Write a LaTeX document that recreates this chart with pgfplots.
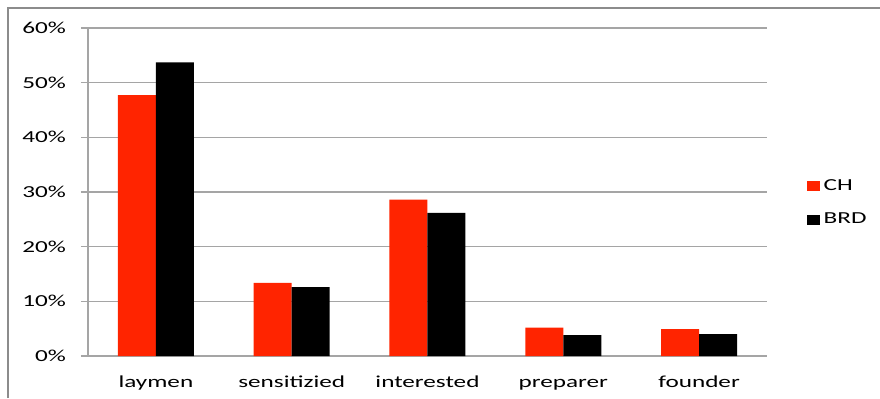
\documentclass[border=0pt]{standalone}
\usepackage{pgfplots}
\pgfplotsset{compat=1.18}
\usepackage{fontspec}
\setmainfont{Carlito}[FakeStretch=1.5]
\definecolor{chred}{RGB}{255,36,0}
\definecolor{gridgray}{RGB}{165,165,165}
\definecolor{framegray}{RGB}{140,140,140}
\begin{document}
\begin{tikzpicture}
\useasboundingbox (0,0) rectangle (440pt,199pt);
\draw[framegray, line width=1pt] (3.75pt,0) -- (3.75pt,195.25pt) -- (440pt,195.25pt);
\begin{axis}[
  at={(44pt,21pt)}, anchor=south west,
  scale only axis, width=339.5pt, height=164pt,
  ybar=0pt, bar width=19pt,
  xmin=-0.5, xmax=4.5, ymin=0, ymax=60,
  xtick={0,1,2,3,4},
  xticklabels={laymen,sensitizied,interested,preparer,founder},
  major x tick style={draw=none},
  extra x ticks={-0.5,0.5,1.5,2.5,3.5,4.5},
  extra x tick labels={},
  extra x tick style={tick align=outside, major tick length=2.5pt, tick style={gridgray, line width=0.6pt}, grid=none},
  ytick={0,10,...,60},
  yticklabel={\pgfmathprintnumber{\tick}\%},
  /pgf/number format/assume math mode=true,
  ytick style={gridgray, line width=0.6pt},
  tick align=outside, major tick length=3.5pt,
  ymajorgrids, grid style={gridgray, line width=0.6pt},
  axis x line*=bottom, axis y line*=left,
  axis line style={gridgray, line width=0.6pt, -},
  tick label style={font=\fontsize{8.4}{9}\selectfont, text=black},
  yticklabel style={xshift=-4pt},
  xticklabel style={yshift=-2.5pt, text height=6pt, text depth=1.8pt},
  legend style={at={(1.055,0.466)}, anchor=west, draw=none, fill=none,
    font=\fontsize{8.4}{9}\selectfont, row sep=6pt, inner sep=1pt},
  legend cell align=left,
  legend image code/.code={\fill[#1] (0pt,-2.5pt) rectangle (6.5pt,2.5pt);},
]
\addplot[fill=chred, draw=none] coordinates {(0,47.7) (1,13.4) (2,28.6) (3,5.2) (4,4.9)};
\addplot[fill=black, draw=none] coordinates {(0,53.7) (1,12.6) (2,26.2) (3,3.8) (4,4.0)};
\legend{CH,BRD}
\end{axis}
\end{tikzpicture}
\end{document}
